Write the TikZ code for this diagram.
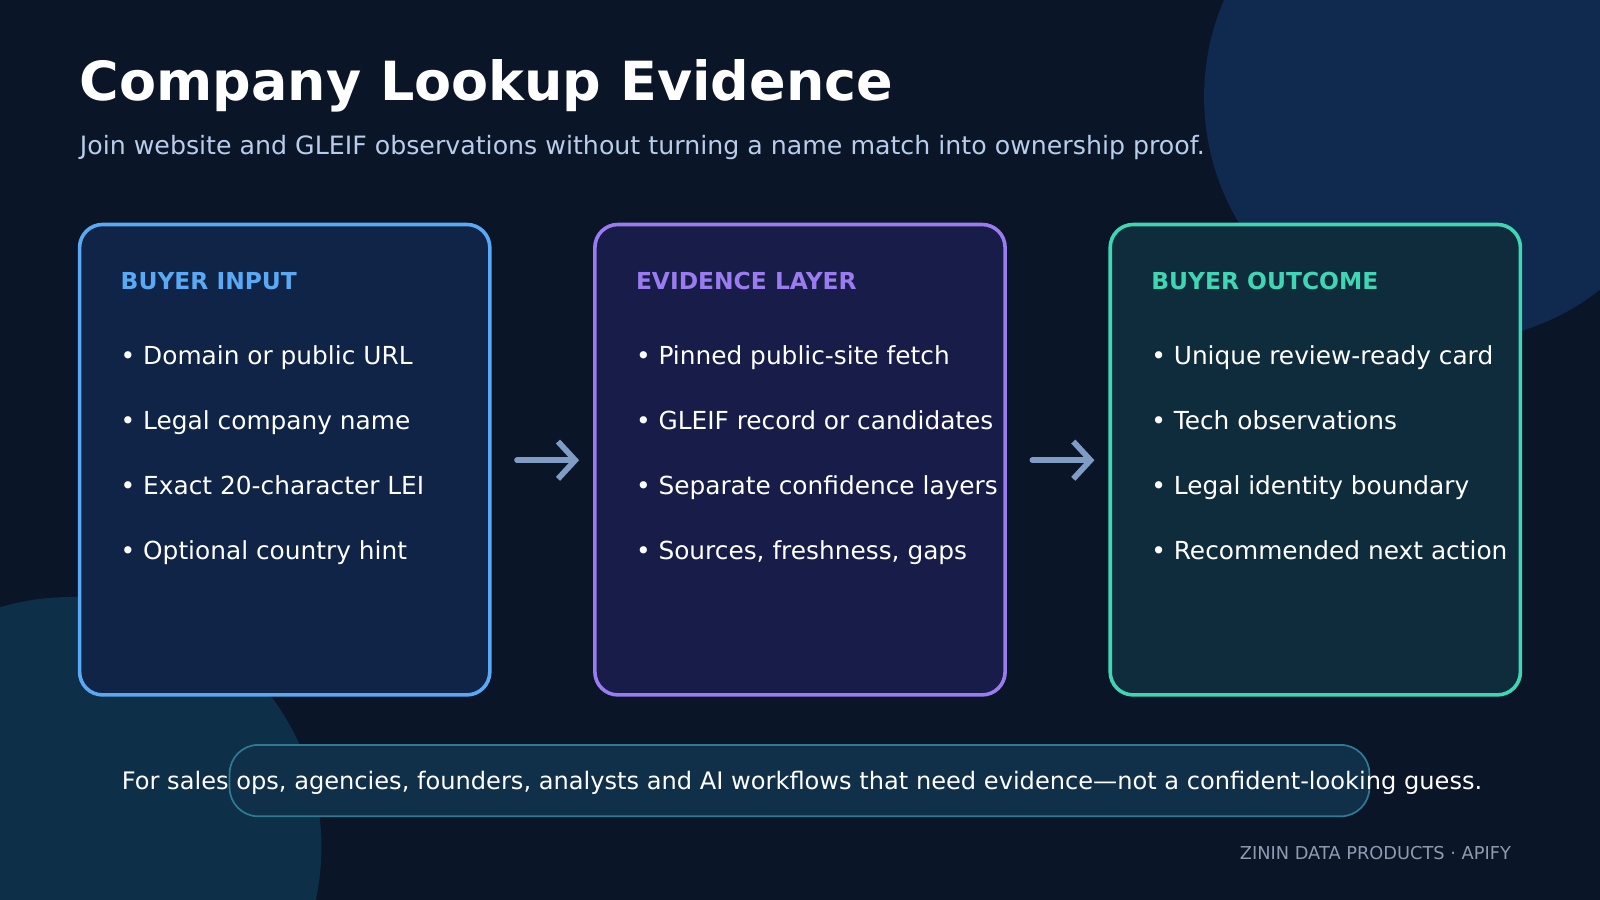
\documentclass[tikz,border=0pt]{standalone}
\usepackage{fontspec}
\setmainfont{DejaVu Sans}
\usetikzlibrary{arrows.meta}
\definecolor{bg}{HTML}{0A1528}
\definecolor{circA}{HTML}{10294F}
\definecolor{circB}{HTML}{0D2F47}
\definecolor{blueE}{HTML}{5AA9F5}
\definecolor{blueF}{HTML}{0F2446}
\definecolor{purE}{HTML}{9B7CF0}
\definecolor{purF}{HTML}{171D48}
\definecolor{grnE}{HTML}{3FD6B4}
\definecolor{grnF}{HTML}{0F2C3D}
\definecolor{sub}{HTML}{B8CDEA}
\definecolor{arr}{HTML}{7F9CC4}
\definecolor{pill}{HTML}{10304A}
\definecolor{pillE}{HTML}{2E7A92}
\definecolor{foot}{HTML}{8E9BB0}
\tikzset{
 every node/.style={inner sep=0pt},
 card/.style={draw=#1, line width=2.5pt, rounded corners=16pt},
 head/.style={anchor=base west, font=\fontsize{16.3}{19}\selectfont\bfseries},
 item/.style={anchor=base west, text=white, font=\fontsize{17.3}{20}\selectfont},
 flow/.style={draw=arr, line width=4pt, line cap=round, -{Straight Barb[length=12pt,width=26pt,line width=4pt]}}
}
\begin{document}
\begin{tikzpicture}[x=0.025cm,y=-0.025cm]
\fill[bg] (0,0) rectangle (1568,882);
\begin{scope}
\clip (0,0) rectangle (1568,882);
\fill[circA] (1420,95) circle (240);
\fill[circB] (70,830) circle (245);
\end{scope}
\node[anchor=base west,text=white,font=\fontsize{37.6}{44}\selectfont\bfseries] (title) at (78,98) {Company Lookup Evidence};
\node[anchor=base west,text=sub,font=\fontsize{17.6}{20}\selectfont] (subt) at (78,151) {Join website and GLEIF observations without turning a name match into ownership proof.};
% cards
\path[card=blueE, fill=blueF] (78,220) rectangle (480,681);
\path[card=purE, fill=purF] (583,220) rectangle (985,681);
\path[card=grnE, fill=grnF] (1088,220) rectangle (1490,681);
\node[coordinate] (c1) at (480,451) {};
\node[coordinate] (c2) at (583,451) {};
\node[coordinate] (c3) at (985,451) {};
\node[coordinate] (c4) at (1088,451) {};
\node[head,text=blueE] (h1) at (118,284) {BUYER INPUT};
\node[head,text=purE] (h2) at (623,284) {EVIDENCE LAYER};
\node[head,text=grnE] (h3) at (1128,284) {BUYER OUTCOME};
\foreach \t [count=\i] in {Domain or public URL,Legal company name,Exact 20-character LEI,Optional country hint}
  \node[item] (a\i) at (118,357+63.7*\i-63.7) {• \t};
\foreach \t [count=\i] in {Pinned public-site fetch,GLEIF record or candidates,Separate confidence layers,{Sources, freshness, gaps}}
  \node[item] (b\i) at (623,357+63.7*\i-63.7) {• \t};
\foreach \t [count=\i] in {Unique review-ready card,Tech observations,Legal identity boundary,Recommended next action}
  \node[item] (d\i) at (1128,357+63.7*\i-63.7) {• \t};
\draw[flow] ([xshift=19]c1) -- ([xshift=-11]c2);
\draw[flow] ([xshift=19]c3) -- ([xshift=-11]c4);
% pill
\draw[draw=pillE,fill=pill,line width=1.2pt,rounded corners=20pt] (225,730) rectangle (1342,800);
\node[anchor=base,text=white,font=\fontsize{16.8}{20}\selectfont] (note) at (786,774) {For sales ops, agencies, founders, analysts and AI workflows that need evidence—not a confident-looking guess.};
\node[anchor=base east,text=foot,font=\fontsize{12.4}{14}\selectfont] (ft) at (1481,842) {ZININ DATA PRODUCTS · APIFY};
\end{tikzpicture}
\end{document}
